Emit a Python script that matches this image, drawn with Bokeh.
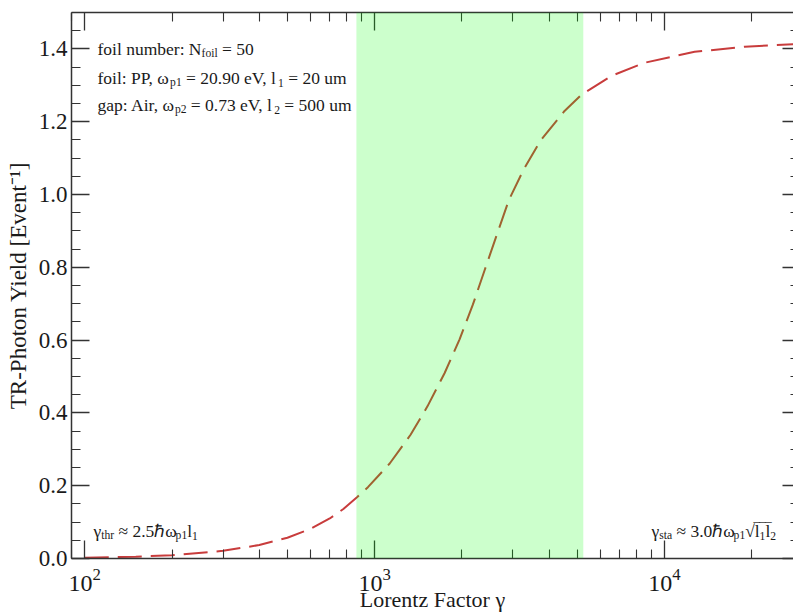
from bokeh.plotting import figure
from bokeh.models import (LogAxis, LinearAxis, FixedTicker, SingleIntervalTicker,
                          PrintfTickFormatter, BoxAnnotation, Label)
from bokeh.embed import file_html
from bokeh.resources import INLINE

# TR-photon yield versus Lorentz factor (dashed curve)
gamma = [100, 150, 200, 300, 400, 500, 600, 700, 780, 871, 948, 1127, 1330,
         1521, 1742, 1963, 2183, 2395, 2630, 2905, 3272, 3735, 4500, 5165, 6560,
         8540, 12700, 18900, 27850]
tr_yield = [0.002, 0.005, 0.009, 0.021, 0.037, 0.057, 0.081, 0.110, 0.136,
            0.169, 0.196, 0.261, 0.340, 0.418, 0.509, 0.602, 0.698, 0.792, 0.886,
            0.985, 1.070, 1.148, 1.228, 1.274, 1.326, 1.362, 1.392, 1.406, 1.413]

# Lorentz-factor window between threshold and saturation
band_low = 865
band_high = 5245

# Axis ticks
x_major = [100, 1000, 10000]
x_major_labels = ["10²", "10³", "10⁴"]
x_minor = [m * d for d in (10, 100, 1000, 10000) for m in range(2, 10)]
y_step = 0.2

FONT = "Liberation Serif"
INK = "#1a1a1a"
AXIS = "#333333"

p = figure(width=793, height=614, x_axis_type="log",
           x_range=(90, 27850), y_range=(0, 1.5),
           output_backend="svg", toolbar_location=None,
           min_border_left=71, min_border_right=0,
           min_border_top=12, min_border_bottom=55)
p.xgrid.visible = False
p.ygrid.visible = False
p.outline_line_color = None
p.background_fill_color = "white"
p.border_fill_color = "white"

x_ticker = FixedTicker(ticks=x_major, minor_ticks=x_minor)
y_ticker = SingleIntervalTicker(interval=y_step, num_minor_ticks=4)


def style_axis(ax, show_labels):
    ax.axis_line_color = AXIS
    ax.axis_line_width = 1.5
    ax.major_tick_line_color = AXIS
    ax.minor_tick_line_color = AXIS
    ax.major_tick_line_width = 1.3
    ax.minor_tick_line_width = 1.1
    ax.major_tick_out = 0
    ax.minor_tick_out = 0
    ax.major_tick_in = 18
    ax.minor_tick_in = 9
    if not show_labels:
        ax.major_label_text_font_size = "1px"
        ax.major_label_text_alpha = 0
        ax.major_label_standoff = 0


# bottom axis
xa = p.xaxis[0]
xa.ticker = x_ticker
xa.major_label_overrides = {str(v): t for v, t in zip(x_major, x_major_labels)}
style_axis(xa, True)
xa.major_label_text_font = FONT
xa.major_label_text_font_size = "24px"
xa.major_label_text_color = INK
xa.major_label_standoff = 10
xa.axis_label = "Lorentz Factor γ"
xa.axis_label_text_font = FONT
xa.axis_label_text_font_size = "22px"
xa.axis_label_text_font_style = "normal"
xa.axis_label_text_color = INK
xa.axis_label_standoff = -7

# left axis
ya = p.yaxis[0]
ya.ticker = y_ticker
ya.formatter = PrintfTickFormatter(format="%.1f")
style_axis(ya, True)
ya.major_label_text_font = FONT
ya.major_label_text_font_size = "23px"
ya.major_label_text_color = INK
ya.major_label_standoff = 4
ya.axis_label = "TR-Photon Yield [Event⁻¹]"
ya.axis_label_text_font = FONT
ya.axis_label_text_font_size = "23px"
ya.axis_label_text_font_style = "normal"
ya.axis_label_text_color = INK
ya.axis_label_standoff = 5

# mirrored ticks on the top and right edges
top = LogAxis(ticker=x_ticker)
style_axis(top, False)
p.add_layout(top, "above")

right = LinearAxis(ticker=y_ticker)
style_axis(right, False)
right.axis_line_color = None
right.major_tick_in = 11
right.minor_tick_in = 3
p.add_layout(right, "right")

# yield curve
p.line(gamma, tr_yield, line_color="#c83c3c", line_width=2, line_dash="24 9")

# shaded window, drawn over the curve
p.add_layout(BoxAnnotation(left=band_low, right=band_high,
                           fill_color="#00ff00", fill_alpha=0.2, line_alpha=0))

# rich text with subscripts built from pieces
EM = {" ": 0.25, "a": 0.444, "b": 0.5, "c": 0.444, "d": 0.5, "e": 0.444, "f": 0.333,
      "g": 0.5, "h": 0.5, "i": 0.278, "l": 0.278, "m": 0.778, "n": 0.5, "o": 0.5,
      "p": 0.5, "r": 0.333, "s": 0.389, "t": 0.278, "u": 0.5, "v": 0.5,
      "A": 0.722, "N": 0.722, "P": 0.556, "V": 0.722, "E": 0.611,
      ".": 0.25, ",": 0.25, ":": 0.278, "=": 0.564, "ω": 0.62, "γ": 0.44,
      "≈": 0.548, "ℏ": 0.6, "√": 0.549, "‾": 0.5}


def width_of(s, size):
    return sum(EM.get(ch, 0.5) for ch in s) * size


def rich_text(x, y, x_off, y_off, parts, size=17.5, sub_scale=0.66, sub_drop=5):
    cursor = x_off
    for txt, kind in parts:
        fs = size * sub_scale if kind == "sub" else size
        dy = -sub_drop if kind == "sub" else 0
        # svg text drops leading blanks, so advance past them by hand
        body = txt.lstrip(" ")
        cursor += (len(txt) - len(body)) * EM[" "] * fs
        if kind == "bar":
            p.add_layout(Label(x=x, y=y, x_offset=cursor - 1, y_offset=y_off + 1,
                               text=body, text_font=FONT, text_font_size=f"{size}px",
                               text_baseline="alphabetic", text_color=INK))
            continue
        p.add_layout(Label(x=x, y=y, x_offset=cursor, y_offset=y_off + dy, text=body,
                           text_font=FONT, text_font_size=f"{fs:.1f}px",
                           text_baseline="alphabetic", text_align="left",
                           text_color=INK))
        cursor += width_of(body, fs)


x0 = p.x_range.start
x1 = p.x_range.end
y_top = p.y_range.end

rich_text(x0, y_top, 26, -36, [("foil number: N", "n"), ("foil", "sub"), (" = 50", "n")])
rich_text(x0, y_top, 26, -65, [("foil: PP, ω", "n"), ("p1", "sub"),
                               (" = 20.90 eV, l", "n"), ("1", "sub"), (" = 20 um", "n")])
rich_text(x0, y_top, 26, -92, [("gap: Air, ω", "n"), ("p2", "sub"),
                               (" = 0.73 eV, l", "n"), ("2", "sub"), (" = 500 um", "n")])

rich_text(x0, 0, 22, 28, [("γ", "n"), ("thr", "sub"), (" ≈ 2.5ℏω", "n"), ("p1", "sub"),
                          ("l", "n"), ("1", "sub")])
rich_text(x1, 0, -142, 28, [("γ", "n"), ("sta", "sub"), (" ≈ 3.0ℏω", "n"), ("p1", "sub"),
                            ("√", "n"), ("‾‾‾", "bar"), ("l", "n"), ("1", "sub"),
                            ("l", "n"), ("2", "sub")])

open("out.html", "w").write(file_html(p, INLINE))
